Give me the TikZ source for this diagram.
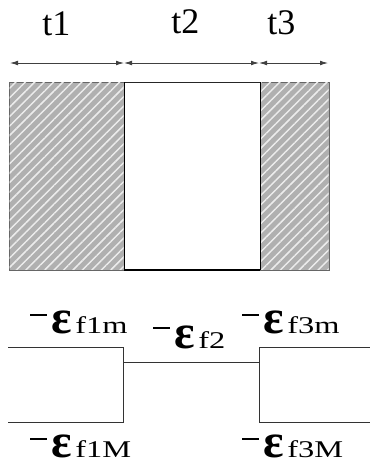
\documentclass[tikz,border=0pt]{standalone}
\usepackage{fontspec}
\setmainfont{Liberation Serif}
\usepackage{graphicx}
\usetikzlibrary{arrows.meta,patterns.meta}
\newcommand\epslab[2][12.5pt]{\rule[#1]{12.5pt}{1.5pt}\hspace{3.5pt}{\fontsize{36pt}{38pt}\selectfont\bfseries ε}\hspace{2.5pt}\scalebox{1.35}[1]{\fontsize{18pt}{20pt}\selectfont #2}}
\begin{document}
\begin{tikzpicture}[x=0.75pt,y=-0.75pt,
  tlab/.style={anchor=base west,inner sep=0pt,font=\fontsize{27pt}{29pt}\selectfont},
  elab/.style={anchor=base west,inner sep=0pt},
  dimarrow/.style={draw=black!75,line width=0.6pt,{Latex[length=6pt,width=3.5pt]}-{Latex[length=6pt,width=3.5pt]}},
  hatched/.style={fill=gray!62,draw=black!60,line width=0.7pt},
  stepline/.style={draw=black!80,line width=0.7pt}]
\useasboundingbox (0,0) rectangle (370,475);
% dimension arrows
\coordinate (d0) at (10,63);
\coordinate (d1) at (124,63);
\coordinate (d2) at (259,63);
\coordinate (d3) at (328,63);
\draw[dimarrow] (d0) -- (d1);
\draw[dimarrow] (d1) -- (d2);
\draw[dimarrow] (d2) -- (d3);
\node[tlab] (t1) at (42,35) {t1};
\node[tlab] (t2) at (171,33) {t2};
\node[tlab] (t3) at (267,34) {t3};
% layers
\path[hatched] (9,82) rectangle (124,270);
\path[pattern={Lines[angle=45,distance=5pt,line width=1.1pt]},pattern color=gray!15] (9.5,82.5) rectangle (123.5,269.5);
\path[hatched] (260,82) rectangle (329,270);
\path[pattern={Lines[angle=45,distance=5pt,line width=1.1pt]},pattern color=gray!15] (260.5,82.5) rectangle (328.5,269.5);
\draw[black!85,line width=0.7pt] (124,82) -- (260,82);
\draw[black,line width=0.8pt] (124,270) -- (260,270);
\draw[black,line width=0.6pt] (124,82) -- (124,270);
\draw[black,line width=0.6pt] (260,82) -- (260,270);
% strain profile
\coordinate (l0) at (8,347);
\coordinate (l1) at (123,347);
\coordinate (l2) at (123,422);
\coordinate (l3) at (8,422);
\coordinate (m0) at (123,362);
\coordinate (m1) at (259,362);
\coordinate (r0) at (370,347);
\coordinate (r1) at (259,347);
\coordinate (r2) at (259,422);
\coordinate (r3) at (370,422);
\draw[stepline] (l0) -- (l1) -- (l2) -- (l3);
\draw[stepline] (m0) -- (m1);
\draw[stepline] (r0) -- (r1) -- (r2) -- (r3);
% labels
\node[elab] (e1m) at (30,333) {\epslab{f1m}};
\node[elab] (e2) at (153,348) {\epslab[14pt]{f2}};
\node[elab] (e3m) at (242,333) {\epslab{f3m}};
\node[elab] (e1M) at (30,457) {\epslab{f1M}};
\node[elab] (e3M) at (242,457) {\epslab{f3M}};
\end{tikzpicture}
\end{document}
